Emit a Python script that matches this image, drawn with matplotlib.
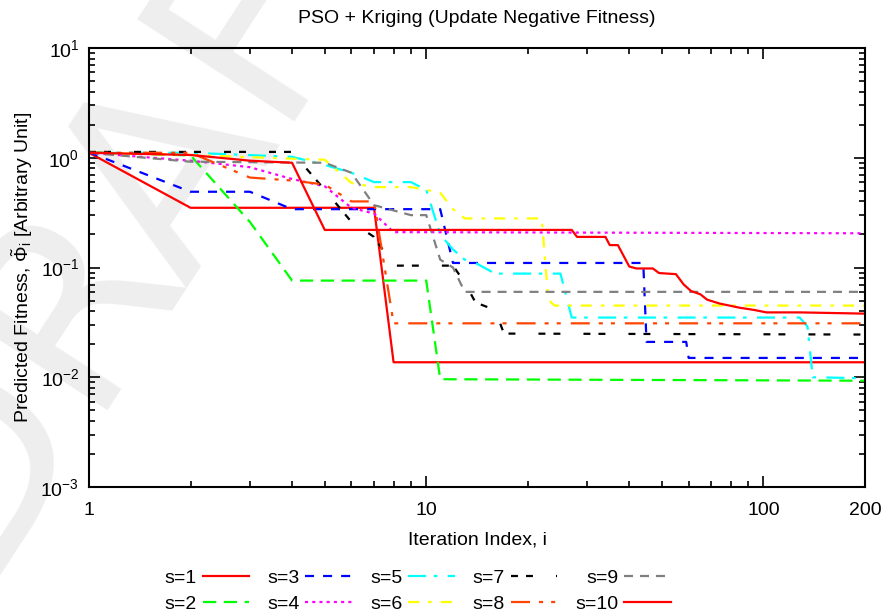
import numpy as np
import matplotlib
matplotlib.use("Agg")
import matplotlib.pyplot as plt
from matplotlib.ticker import LogLocator, NullFormatter

plt.rcParams['font.family'] = ['Liberation Sans', 'DejaVu Sans']
plt.rcParams['mathtext.fontset'] = 'custom'
plt.rcParams['mathtext.rm'] = 'Liberation Sans'
plt.rcParams['mathtext.it'] = 'Liberation Sans:italic'
plt.rcParams['lines.scale_dashes'] = False

# values (iteration index, predicted fitness)
x_s1 = [1, 2, 7, 8, 200]
y_s1 = [1.11, 0.35, 0.35, 0.0137, 0.0137]

x_s2 = [1, 2, 3, 4, 10, 11, 200]
y_s2 = [1.12, 1.05, 0.26, 0.076, 0.076, 0.0096, 0.0093]

x_s3 = [1, 2, 3, 4, 11, 12, 44, 45, 59, 60, 200]
y_s3 = [1.12, 0.49, 0.49, 0.34, 0.34, 0.11, 0.11, 0.021, 0.021, 0.015, 0.015]

x_s4 = [1, 2, 3, 4, 5, 6, 7, 8, 200]
y_s4 = [1.11, 0.94, 0.82, 0.64, 0.55, 0.35, 0.31, 0.21, 0.205]

x_s5 = [1, 2, 4, 5, 6, 7, 9, 10, 11, 12, 13, 14, 16, 25, 27, 128, 135, 140, 200]
y_s5 = [1.11, 1.11, 1.02, 0.86, 0.73, 0.60, 0.60, 0.51, 0.20, 0.146, 0.118, 0.11,
        0.088, 0.088, 0.035, 0.035, 0.029, 0.0100, 0.0098]

x_s6 = [1, 2, 4, 5, 6, 7, 9, 10, 11, 12, 13, 22, 23, 24, 200]
y_s6 = [1.11, 1.06, 0.98, 0.96, 0.59, 0.54, 0.54, 0.51, 0.48, 0.34, 0.28, 0.28,
        0.051, 0.045, 0.045]

x_s7 = [1, 4, 5, 6, 7, 8, 12, 13, 14, 16, 17, 200]
y_s7 = [1.13, 1.13, 0.51, 0.26, 0.19, 0.104, 0.104, 0.073, 0.048, 0.041, 0.025, 0.0245]

x_s8 = [1, 2, 3, 4, 5, 6, 7, 8, 200]
y_s8 = [1.11, 1.11, 0.66, 0.62, 0.57, 0.40, 0.40, 0.031, 0.031]

x_s9 = [1, 2, 5, 6, 7, 9, 10, 11, 12, 13, 200]
y_s9 = [1.11, 0.92, 0.90, 0.73, 0.37, 0.30, 0.30, 0.118, 0.10, 0.06, 0.06]

x_s10 = [1, 2, 3, 4, 5, 27, 28, 34, 35, 37, 40, 42, 47, 49, 55, 58, 61, 65, 68,
         74, 85, 94, 102, 128, 200]
y_s10 = [1.11, 1.06, 0.94, 0.90, 0.22, 0.22, 0.19, 0.19, 0.16, 0.16, 0.102, 0.098,
         0.098, 0.089, 0.087, 0.070, 0.061, 0.057, 0.051, 0.047, 0.043, 0.041,
         0.039, 0.039, 0.038]

labels = ['s=1', 's=2', 's=3', 's=4', 's=5', 's=6', 's=7', 's=8', 's=9', 's=10']
xs = [x_s1, x_s2, x_s3, x_s4, x_s5, x_s6, x_s7, x_s8, x_s9, x_s10]
ys = [y_s1, y_s2, y_s3, y_s4, y_s5, y_s6, y_s7, y_s8, y_s9, y_s10]

colors = ['#ff0000', '#00ff00', '#0000ff', '#ff00ff', '#00ffff',
          '#ffff00', '#000000', '#ff4500', '#808080', '#ff0000']
dashes = [None, (9.5, 5.5), (6.5, 6.5), (2.2, 3.0), (13, 5.5, 2.6, 7.5),
          (8, 6.5, 2.6, 6.5), (5, 5.8, 5, 16.6), (13.7, 6.5, 2.9, 5.8, 2.9, 7.2),
          (6.5, 5), None]

fig = plt.figure(figsize=(8.85, 6.12), dpi=100)

# watermark behind the axes
fig.text(0.165, 0.70, 'DRAFT', fontsize=185, color='#eeeeee', rotation=57,
         ha='center', va='center', rotation_mode='anchor', zorder=-1,
         family='DejaVu Sans')

ax = fig.add_axes([0.1006, 0.2042, 0.8768, 0.7174])
ax.patch.set_alpha(0)

for x, y, c, d, lab in zip(xs, ys, colors, dashes, labels):
    line, = ax.plot(x, y, color=c, lw=1.6, label=lab)
    if d is not None:
        line.set_dashes(d)

ax.set_xscale('log')
ax.set_yscale('log')
ax.set_xlim(1, 200)
ax.set_ylim(1e-3, 1e1)

ax.set_xticks([1, 10, 100, 200])
ax.set_xticklabels(['1', '10', '100', '200'])
ax.xaxis.set_minor_locator(LogLocator(base=10, subs=np.arange(2, 10)))
ax.xaxis.set_minor_formatter(NullFormatter())
ax.yaxis.set_minor_locator(LogLocator(base=10, subs=np.arange(2, 10)))
ax.yaxis.set_minor_formatter(NullFormatter())

ax.tick_params(which='both', direction='in', top=True, right=True, labelsize=14,
               width=1.2)
ax.tick_params(axis='x', which='major', pad=11)
ax.tick_params(axis='y', which='major', pad=7)
ax.tick_params(which='major', length=8)
ax.tick_params(which='minor', length=4)
for sp in ax.spines.values():
    sp.set_linewidth(1.5)

ax.set_title('PSO + Kriging (Update Negative Fitness)', fontsize=14, pad=18)
ax.set_xlabel('Iteration Index, i', fontsize=14, labelpad=9)
ax.set_ylabel(r'Predicted Fitness, $\tilde{\Phi}_{\mathrm{i}}$ [Arbitrary Unit]',
              fontsize=14, labelpad=4)

fig.legend(loc='center', bbox_to_anchor=(0.472, 0.034), ncol=5, frameon=False,
           fontsize=14, markerfirst=False, handlelength=2.4, handletextpad=0.3,
           columnspacing=0.92, labelspacing=0.42, borderaxespad=0)

fig.savefig('out.png', dpi=100)
